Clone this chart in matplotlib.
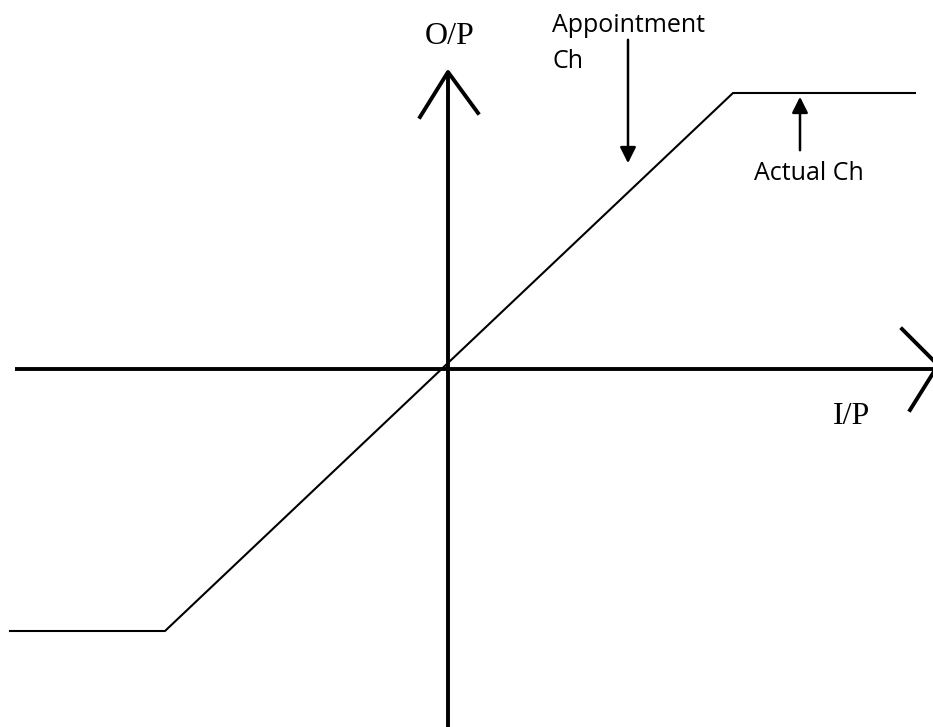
"""
Input/output characteristic sketch: ideal (appointment) vs actual saturating curve.
"""

import matplotlib.pyplot as plt

# coordinates in image pixels (y grows downwards)
W, H = 933, 727

# axes
x_axis_x = [15, 933]
x_axis_y = [369, 369]
y_axis_x = [448, 448]
y_axis_y = [727, 72]

# arrowheads (open chevrons)
y_head_x = [420, 448, 478]
y_head_y = [117, 72, 113]
x_head_upper_x = [902, 935]
x_head_upper_y = [329, 362]
x_head_lower_x = [910, 935]
x_head_lower_y = [410, 370]

# characteristic curve with saturation
curve_x = [10, 165, 733, 915]
curve_y = [631, 631, 93, 93]

fig = plt.figure(figsize=(W / 100, H / 100), dpi=100)
ax = fig.add_axes([0, 0, 1, 1])
ax.set_xlim(0, W)
ax.set_ylim(H, 0)
ax.axis('off')

ax.plot(x_axis_x, x_axis_y, color='black', linewidth=2.8, solid_capstyle='butt')
ax.plot(y_axis_x, y_axis_y, color='black', linewidth=2.8, solid_capstyle='butt')
ax.plot(y_head_x, y_head_y, color='black', linewidth=2.8)
ax.plot(x_head_upper_x, x_head_upper_y, color='black', linewidth=2.8)
ax.plot(x_head_lower_x, x_head_lower_y, color='black', linewidth=2.8)

ax.plot(curve_x, curve_y, color='black', linewidth=1.5)

# labels
ax.text(450, 36, 'O/P', family='Liberation Serif', fontsize=23, ha='center', va='center')
ax.text(852, 417, 'I/P', family='Liberation Serif', fontsize=23, ha='center', va='center')
ax.text(552, 25, 'Appointment', family='Open Sans', fontsize=18, ha='left', va='center')
ax.text(552, 62, 'Ch', family='Open Sans', fontsize=18, ha='left', va='center')
ax.text(809, 173, 'Actual Ch', family='Open Sans', fontsize=18, ha='center', va='center')

# pointer arrows
ax.annotate('', xy=(628, 166), xytext=(628, 37),
            arrowprops=dict(arrowstyle='-|>', color='black', lw=1.8, mutation_scale=24))
ax.annotate('', xy=(800, 94), xytext=(800, 153),
            arrowprops=dict(arrowstyle='-|>', color='black', lw=1.8, mutation_scale=24))

plt.savefig('out.png', dpi=100)
plt.close()
